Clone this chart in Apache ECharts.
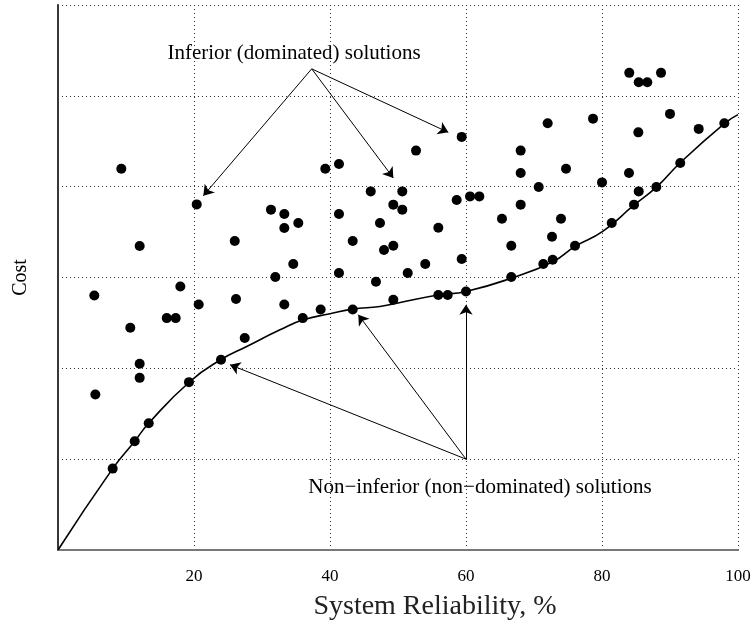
<!DOCTYPE html>
<html>
<head>
<meta charset="utf-8">
<script src="https://cdn.jsdelivr.net/npm/echarts@6/dist/echarts.min.js"></script>
<style>
  html, body { margin: 0; padding: 0; background: #fff; }
  #chart { width: 752px; height: 628px; }
</style>
</head>
<body>
<div id="chart"></div>
<script>
// solutions (reliability %, cost)
var solX = [9.31, 20.40, 31.32, 33.28, 33.28, 35.34, 39.31, 41.32, 45.99, 41.32,
  47.35, 25.99, 43.34, 12.01, 34.60, 31.96, 41.32, 46.76, 5.34, 17.99,
  26.18, 20.69, 33.28, 15.99, 17.31, 35.99, 38.63, 43.34, 10.63, 27.46,
  23.97, 12.01, 12.01, 5.49, 19.26, 13.34, 11.28, 8.04,
  84.01, 85.40, 86.66, 88.68, 90.00, 94.22, 97.99, 78.68, 72.01, 85.34,
  59.37, 52.65, 68.04, 68.04, 74.71, 83.97, 91.51, 80.00, 70.69, 85.40,
  87.99, 50.63, 49.31, 50.63, 58.63, 60.59, 61.96, 68.04, 84.71, 65.29,
  73.97, 81.43, 55.93, 47.94, 49.31, 66.66, 72.65, 76.03, 59.37, 54.01,
  51.43, 71.37, 72.75, 66.66, 49.31, 55.93, 57.31, 60.00];
var solY = [4.198, 3.805, 3.747, 3.699, 3.545, 3.600, 4.198, 4.250, 3.948, 3.699,
  3.600, 3.402, 3.402, 3.347, 3.148, 3.005, 3.049, 2.953, 2.802, 2.901,
  2.763, 2.703, 2.703, 2.553, 2.553, 2.553, 2.648, 2.648, 2.446, 2.333,
  2.094, 2.050, 1.895, 1.711, 1.848, 1.396, 1.198, 0.896,
  5.253, 5.149, 5.149, 5.253, 4.801, 4.636, 4.698, 4.749, 4.698, 4.598,
  4.548, 4.397, 4.397, 4.151, 4.198, 4.151, 4.261, 4.047, 3.997, 3.948,
  3.997, 3.948, 3.802, 3.747, 3.853, 3.893, 3.893, 3.802, 3.802, 3.647,
  3.647, 3.600, 3.548, 3.302, 3.350, 3.350, 3.449, 3.350, 3.203, 3.148,
  3.049, 3.148, 3.196, 3.005, 2.755, 2.807, 2.807, 2.846];

// non-inferior front
var frontX = [0, 8.04, 11.28, 13.34, 19.41, 23.93, 27.75, 32.65, 36.07, 40, 43.28, 47.35,
  50, 55.9, 60, 66.72, 72.84, 76.03, 80.1, 84.6, 88.04, 91.47, 97.99, 100];
var frontY = [0, 0.896, 1.198, 1.396, 1.855, 2.094, 2.24, 2.424, 2.534, 2.60, 2.652, 2.681,
  2.72, 2.807, 2.846, 2.994, 3.177, 3.342, 3.507, 3.79, 3.997, 4.261, 4.694, 4.793];

var xTicks = [0, 20, 40, 60, 80, 100];

// annotation arrows: [fromX, fromY, toX, toY]
var inferiorArrows = [[37.31, 5.297, 21.37, 3.90], [37.31, 5.297, 49.31, 4.096], [37.31, 5.297, 57.40, 4.598]];
var frontArrows = [[60, 1.0, 25.29, 2.04], [60, 1.0, 44.16, 2.59], [60, 1.0, 60, 2.70]];

var myChart = echarts.init(document.getElementById('chart'));

var points = solX.map(function(x, i) { return [x, solY[i]]; });
var front = frontX.map(function(x, i) { return [x, frontY[i]]; });
var arrows = inferiorArrows.concat(frontArrows).map(function(a) {
  return [{ coord: [a[0], a[1]] }, { coord: [a[2], a[3]] }];
});

var serif = 'Liberation Serif';
var dotted = { color: '#333', type: [1, 3], width: 1 };

var option = {
  animation: false,
  backgroundColor: '#fff',
  grid: { left: 58, right: 14, top: 5, bottom: 78, outerBoundsMode: 'none', containLabel: false },
  xAxis: [{
    type: 'value',
    min: xTicks[0],
    max: xTicks[xTicks.length - 1],
    interval: 20,
    axisLine: { lineStyle: { color: '#000', width: 1.5 } },
    axisTick: { show: false },
    axisLabel: { showMinLabel: false, margin: 18, color: '#000', fontFamily: serif, fontSize: 17 },
    splitLine: { show: true, lineStyle: dotted }
  }, {
    type: 'value', position: 'top', min: 0, max: 100,
    axisLine: { show: true, lineStyle: { color: '#777', width: 2 } },
    axisTick: { show: false }, axisLabel: { show: false }, splitLine: { show: false }
  }],
  yAxis: [{
    type: 'value',
    min: 0,
    max: 6,
    interval: 1,
    name: 'Cost',
    nameLocation: 'middle',
    nameGap: 27,
    nameTextStyle: { color: '#000', fontFamily: serif, fontSize: 20 },
    axisLine: { show: true, lineStyle: { color: '#777', width: 2 } },
    axisTick: { show: false },
    axisLabel: { show: false },
    splitLine: { show: true, lineStyle: dotted }
  }, {
    type: 'value', position: 'right', min: 0, max: 6,
    axisLine: { show: true, lineStyle: { color: '#222', width: 1.5 } },
    axisTick: { show: false }, axisLabel: { show: false }, splitLine: { show: false }
  }],
  series: [{
    name: 'Front',
    type: 'line',
    data: front,
    smooth: 0.5,
    showSymbol: false,
    lineStyle: { color: '#000', width: 1.6 },
    silent: true
  }, {
    name: 'Solutions',
    type: 'scatter',
    data: points,
    symbolSize: 10,
    itemStyle: { color: '#000', opacity: 1 },
    markLine: {
      silent: true,
      symbol: ['none', 'arrow'],
      symbolSize: 10,
      label: { show: false },
      itemStyle: { color: '#000' },
      lineStyle: { color: '#000', width: 1, type: 'solid', opacity: 1 },
      data: arrows
    }
  }],
  graphic: [{
    type: 'text',
    style: { x: 294, y: 53, text: 'Inferior (dominated) solutions', fill: '#000',
      font: '21px "Liberation Serif"', align: 'center', verticalAlign: 'middle' }
  }, {
    type: 'text',
    style: { x: 480, y: 487, text: 'Non\u2212inferior (non\u2212dominated) solutions', fill: '#000',
      font: '21px "Liberation Serif"', align: 'center', verticalAlign: 'middle' }
  }, {
    type: 'text',
    style: { x: 435, y: 607, text: 'System Reliability, %', fill: '#222',
      font: '28px "Liberation Serif"', align: 'center', verticalAlign: 'middle' }
  }]
};

myChart.setOption(option);
</script>
</body>
</html>
